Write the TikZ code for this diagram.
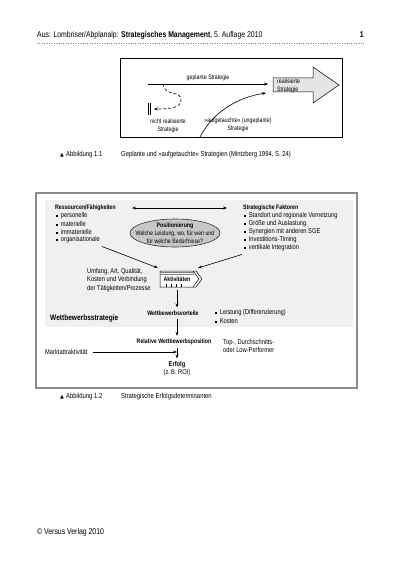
\documentclass[tikz,border=0pt]{standalone}
\usepackage{fontspec}
\setmainfont{Liberation Sans}[FakeStretch=0.82]
\newfontfamily\symbfont{DejaVu Sans}
\usetikzlibrary{arrows.meta,calc,shapes.geometric,positioning}

\definecolor{bandgray}{gray}{0.94}
\definecolor{ovalgray}{gray}{0.78}
\definecolor{framegray}{gray}{0.55}
\definecolor{arrowgray}{gray}{0.9}

\newcommand{\hdrfont}{\fontsize{8.4}{10}\selectfont}
\newcommand{\figcapfont}{\fontsize{7.2}{8.5}\selectfont}
\newcommand{\wsfont}{\fontsize{8}{9}\selectfont\bfseries}
\newcommand{\bsq}{\rule[0.6pt]{2.2pt}{2.2pt}\hspace{2.5pt}}

\tikzset{
  txt/.style={inner sep=0pt, font=\fontsize{6.4}{8.2}\selectfont},
  lbl/.style={txt, anchor=west, align=left},
  ctr/.style={txt, align=center},
  hd/.style={txt, font=\fontsize{6.4}{8.2}\selectfont\bfseries},
  arr/.style={-{Stealth[length=4pt,width=3pt]}, line width=0.6pt},
  dblarr/.style={{Stealth[length=4pt,width=3pt]}-{Stealth[length=4pt,width=3pt]}, line width=0.6pt},
}

\begin{document}
\begin{tikzpicture}[x=1pt,y=-1pt]
  \useasboundingbox (0,0) rectangle (400,567);

  % Kopfzeile
  \node[lbl, font=\hdrfont] (head) at (37,35) {Aus: Lombriser/Abplanalp: \textbf{Strategisches Management}, 5.~Auflage 2010};
  \node[txt, font=\hdrfont\bfseries, anchor=east] (pagenr) at (364,35) {1};
  \draw[gray, dotted] (37,43) -- (364,43);

  % Abbildung 1.1
  \draw[line width=0.5pt] (120,58) rectangle (342,137);
  \filldraw[fill=arrowgray, line width=0.5pt] (273,78) -- (313,78) -- (313,67) -- (339,85) -- (313,103) -- (313,92) -- (273,92) -- cycle;
  \node[lbl] (real) at (277,85.5) {realisierte\\Strategie};
  \coordinate (plan) at (148,84);
  \coordinate (realtail) at (268,84);
  \draw[arr] (plan) -- node[ctr, above=3pt] (planlbl) {geplante Strategie} (realtail);

  \coordinate (drop) at (163,84);
  \coordinate (stop) at (154,109);
  \draw[arr, densely dashed] (drop) .. controls (165,97) and (181,90) .. (181,100) .. controls (181,108) and (170,109) .. (stop);
  \draw[line width=0.6pt] (148,103) -- (148,115) (150.5,103) -- (150.5,115);
  \node[ctr] (nicht) at (168,126) {nicht realisierte\\Strategie};

  \coordinate (emerg) at (200,137);
  \draw[arr] (emerg) .. controls (214,110) and (240,97) .. (266,93);
  \node[ctr] (auf) at (238,125) {»aufgetauchte« (ungeplante)\\Strategie};

  \node[txt, font=\symbfont\fontsize{5}{6}\selectfont] (tri1) at (62,155) {▲};
  \node[lbl, font=\figcapfont] (abb1) at (66,155) {Abbildung 1.1};
  \node[lbl, font=\figcapfont] (cap1) at (121,155) {Geplante und »aufgetauchte« Strategien (Mintzberg 1994, S.~24)};

  % Abbildung 1.2
  \begin{scope}[txt/.style={inner sep=0pt, font=\fontsize{7}{8.2}\selectfont}]
  \draw[framegray, line width=1.2pt] (36,193) rectangle (357,388);
  \fill[bandgray] (45,200) rectangle (353,327);

  \node[hd, anchor=west] (res) at (55,208) {Ressourcen/Fähigkeiten};
  \foreach \t [count=\i] in {personelle, materielle, immaterielle, organisationale}
    \node[lbl] (r\i) at (56,{208+8*\i}) {\bsq\t};

  \node[hd, anchor=west] (fak) at (243,208) {Strategische Faktoren};
  \foreach \t [count=\i] in {Standort und regionale Vernetzung, Größe und Auslastung, Synergien mit anderen SGE, Investitions-Timing, vertikale Integration}
    \node[lbl] (f\i) at (244,{208+8*\i}) {\bsq\t};

  \draw[dblarr] ($(res.east)+(16,0)$) -- ($(fak.west)+(-16,0)$);

  \coordinate (posc) at (175,233);
  \filldraw[fill=ovalgray, draw=black!80, line width=0.6pt] (posc) ellipse [x radius=45, y radius=14];
  \node[ctr, font=\fontsize{6.4}{8.2}\selectfont] (pos) at (posc) {\textbf{Positionierung}\\Welche Leistung, wo, für wen und\\für welche Bedürfnisse?};

  % Aktivitaeten
  \filldraw[fill=white, line width=0.5pt] (160,271) -- (196,271) -- (202,279) -- (196,287) -- (160,287) -- cycle;
  \draw[line width=0.5pt] (193,271) -- (199,279) -- (193,287);
  \foreach \y in {272.5,274} \draw[gray, line width=0.4pt] (160,\y) -- (194,\y);
  \node[hd] (act) at (177,279) {Aktivitäten};
  \foreach \x in {166,171,176,181} \draw[line width=0.5pt] (\x,283.5) -- (\x,287);

  \coordinate (actl) at (158,268);
  \coordinate (actr) at (198,268);
  \draw[arr] ($(r4.south east)+(2,3)$) -- (actl);
  \draw[arr] ($(f5.south west)+(-2,3)$) -- (actr);
  \node[lbl] (umf) at (87,280) {Umfang, Art, Qualität,\\Kosten und Verbindung\\der Tätigkeiten/Prozesse};

  \node[hd] (wv) at (173,313) {Wettbewerbsvorteile};
  \node[lbl] (l1) at (215,313) {\bsq Leistung (Differenzierung)};
  \node[lbl] (l2) at (215,321) {\bsq Kosten};
  \node[txt, font=\wsfont, anchor=west] (ws) at (50,318) {Wettbewerbsstrategie};

  \coordinate (actb) at (177,290);
  \draw[arr, shorten >=3pt] (actb) -- (actb |- wv.north);

  \node[hd] (rel) at (174,342) {Relative Wettbewerbsposition};
  \draw[arr, shorten <=3pt, shorten >=3pt] (actb |- wv.south) -- (actb |- rel.north);
  \node[lbl] (perf) at (223,346) {Top-, Durchschnitts-\\oder Low-Performer};

  \node[ctr] (erf) at (177,369) {\textbf{Erfolg}\\(z.\,B. ROI)};
  \draw[arr, shorten <=3pt, shorten >=3pt] (actb |- rel.south) -- (actb |- erf.north);
  \node[lbl] (markt) at (45,352) {Marktattraktivität};
  \draw[arr, shorten <=5pt] (markt.east) -- (actb |- markt);
  \end{scope}

  \node[txt, font=\symbfont\fontsize{5}{6}\selectfont] (tri2) at (62,397) {▲};
  \node[lbl, font=\figcapfont] (abb2) at (66,397) {Abbildung 1.2};
  \node[lbl, font=\figcapfont] (cap2) at (121,397) {Strategische Erfolgsdeterminanten};

  % Fusszeile
  \node[lbl, font=\hdrfont] (foot) at (37,532) {© Versus Verlag 2010};
\end{tikzpicture}
\end{document}
